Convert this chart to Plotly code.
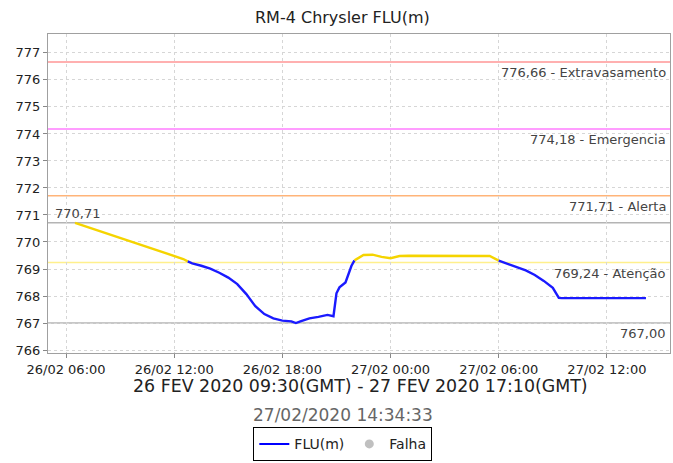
import plotly.graph_objects as go

# ---- data ----
times = [
    "2020-02-26 06:30", "2020-02-26 07:00", "2020-02-26 07:30", "2020-02-26 08:00",
    "2020-02-26 08:30", "2020-02-26 09:00", "2020-02-26 09:30", "2020-02-26 10:00",
    "2020-02-26 10:30", "2020-02-26 11:00", "2020-02-26 11:30", "2020-02-26 12:00",
    "2020-02-26 12:30", "2020-02-26 12:45", "2020-02-26 13:00", "2020-02-26 13:30",
    "2020-02-26 14:00", "2020-02-26 14:30", "2020-02-26 15:00", "2020-02-26 15:30",
    "2020-02-26 16:00", "2020-02-26 16:30", "2020-02-26 17:00", "2020-02-26 17:30",
    "2020-02-26 18:00", "2020-02-26 18:30", "2020-02-26 18:45", "2020-02-26 19:00",
    "2020-02-26 19:30", "2020-02-26 20:00", "2020-02-26 20:30", "2020-02-26 20:50",
    "2020-02-26 21:00", "2020-02-26 21:10", "2020-02-26 21:30", "2020-02-26 21:50",
    "2020-02-26 22:00", "2020-02-26 22:30", "2020-02-26 23:00", "2020-02-26 23:30",
    "2020-02-27 00:00", "2020-02-27 00:30", "2020-02-27 01:00", "2020-02-27 01:30",
    "2020-02-27 02:00", "2020-02-27 02:30", "2020-02-27 03:00", "2020-02-27 03:30",
    "2020-02-27 04:00", "2020-02-27 04:30", "2020-02-27 05:00", "2020-02-27 05:30",
    "2020-02-27 06:00", "2020-02-27 06:30", "2020-02-27 07:00", "2020-02-27 07:30",
    "2020-02-27 08:00", "2020-02-27 08:30", "2020-02-27 09:00", "2020-02-27 09:20",
    "2020-02-27 09:30", "2020-02-27 10:00", "2020-02-27 10:30", "2020-02-27 11:00",
    "2020-02-27 11:30", "2020-02-27 12:00", "2020-02-27 12:30", "2020-02-27 13:00",
    "2020-02-27 13:30", "2020-02-27 14:00", "2020-02-27 14:10",
]
flu = [
    770.71, 770.60, 770.49, 770.38,
    770.27, 770.15, 770.04, 769.93,
    769.82, 769.71, 769.60, 769.49,
    769.37, 769.28, 769.21, 769.12,
    769.01, 768.86, 768.68, 768.44,
    768.07, 767.62, 767.33, 767.17,
    767.09, 767.06, 767.00, 767.06,
    767.17, 767.23, 767.30, 767.25,
    768.10, 768.32, 768.50, 769.12,
    769.32, 769.52, 769.53, 769.45,
    769.40, 769.48, 769.49, 769.49,
    769.49, 769.49, 769.49, 769.49,
    769.49, 769.49, 769.49, 769.48,
    769.31, 769.18, 769.07, 768.95,
    768.78, 768.56, 768.30, 767.93,
    767.92, 767.92, 767.92, 767.92,
    767.92, 767.92, 767.92, 767.92,
    767.92, 767.92, 767.92,
]

ref_values = [776.66, 774.18, 771.71, 769.24]
ref_names = ["Extravasamento", "Emergencia", "Alerta", "Atenção"]
ref_colors = ["#ff9696", "#ff7cff", "#ffb479", "#fff08c"]
max_value = 770.71
min_value = 767.00
y_ticks = [766, 767, 768, 769, 770, 771, 772, 773, 774, 775, 776, 777]

title_text = "RM-4 Chrysler FLU(m)"
period_text = "26 FEV 2020 09:30(GMT) - 27 FEV 2020 17:10(GMT)"
stamp_text = "27/02/2020 14:34:33"

attention = ref_values[3]
FONT = "DejaVu Sans"
YELLOW = "#f5d400"
BLUE = "#1a1aff"

fig = go.Figure()

# split line into coloured runs (yellow when at/above attention level)
runs = []
cur = None
for i in range(len(times) - 1):
    col = YELLOW if min(flu[i], flu[i + 1]) >= attention else BLUE
    if cur is None or cur[0] != col:
        cur = [col, [times[i]], [flu[i]]]
        runs.append(cur)
    cur[1].append(times[i + 1])
    cur[2].append(flu[i + 1])

# reference lines
for v, c in zip(ref_values, ref_colors):
    fig.add_shape(type="line", xref="paper", x0=0, x1=1, yref="y", y0=v, y1=v,
                  line=dict(color=c, width=1.5), layer="below")
for v in [max_value, min_value]:
    fig.add_shape(type="line", xref="paper", x0=0, x1=1, yref="y", y0=v, y1=v,
                  line=dict(color="#b4b4b4", width=1.5), layer="below")

for col, xs, ys in runs:
    fig.add_trace(go.Scatter(x=xs, y=ys, mode="lines", showlegend=False,
                             line=dict(color=col, width=2.4), hoverinfo="skip"))

# legend entries
fig.add_trace(go.Scatter(x=[None], y=[None], mode="lines", name="FLU(m)",
                         line=dict(color="#0000ff", width=2)))
fig.add_trace(go.Scatter(x=[None], y=[None], mode="markers", name="Falha",
                         marker=dict(color="#c0c0c0", size=9)))

LBL = dict(family=FONT, size=13, color="#444444")
ann = []
for v, n in zip(ref_values, ref_names):
    ann.append(dict(xref="paper", yref="y", x=0.997, y=v, xanchor="right", yanchor="top",
                    yshift=-1, showarrow=False,
                    text=f"{v:.2f}".replace(".", ",") + " - " + n, font=LBL))
ann.append(dict(xref="paper", yref="y", x=0.008, y=max_value, xanchor="left", yanchor="bottom",
                yshift=0, showarrow=False, text=f"{max_value:.2f}".replace(".", ","), font=LBL))
ann.append(dict(xref="paper", yref="y", x=0.997, y=min_value, xanchor="right", yanchor="top",
                yshift=-1, showarrow=False, text=f"{min_value:.2f}".replace(".", ","), font=LBL))
ann.append(dict(xref="paper", yref="paper", x=0.474, y=1.053, xanchor="center", yanchor="middle",
                showarrow=False, text=title_text,
                font=dict(family=FONT, size=16, color="#222222")))
ann.append(dict(xref="paper", yref="paper", x=0.503, y=-0.103, xanchor="center", yanchor="middle",
                showarrow=False, text=period_text,
                font=dict(family=FONT, size=17.4, color="#222222")))
ann.append(dict(xref="paper", yref="paper", x=0.474, y=-0.195, xanchor="center", yanchor="middle",
                showarrow=False, text=stamp_text,
                font=dict(family=FONT, size=17, color="#666666")))

fig.update_layout(
    width=673, height=463,
    margin=dict(l=48, r=3, t=34, b=110, autoexpand=False),
    paper_bgcolor="white", plot_bgcolor="white",
    font=dict(family=FONT, color="#222222"),
    annotations=ann,
    showlegend=True,
    legend=dict(orientation="h", x=0.474, xanchor="center", y=-0.233, yanchor="top",
                bordercolor="#000000", borderwidth=1,
                font=dict(family=FONT, size=14, color="#222222"),
                itemwidth=30, tracegroupgap=0),
    xaxis=dict(
        type="date", automargin=False,
        range=["2020-02-26 05:00", "2020-02-27 15:30"],
        dtick=6 * 3600 * 1000, tick0="2020-02-26 00:00",
        tickformat="%d/%m %H:%M",
        tickfont=dict(family=FONT, size=13, color="#222222"),
        showgrid=True, gridcolor="#d6d6d6", griddash="3px,3px", gridwidth=1,
        ticks="outside", ticklen=4, tickcolor="#888888",
        showline=True, linecolor="#a0a0a0", mirror=True, zeroline=False,
    ),
    yaxis=dict(
        range=[765.89, 777.7], automargin=False,
        tickvals=y_ticks,
        tickfont=dict(family=FONT, size=13, color="#222222"),
        showgrid=True, gridcolor="#d6d6d6", griddash="3px,3px", gridwidth=1,
        ticks="outside", ticklen=4, tickcolor="#888888",
        showline=True, linecolor="#a0a0a0", mirror=True, zeroline=False,
    ),
)

fig.write_html(
    "out.html",
    config={"displayModeBar": False},
    post_script="document.body.style.margin='0';document.body.style.overflow='hidden';",
)
